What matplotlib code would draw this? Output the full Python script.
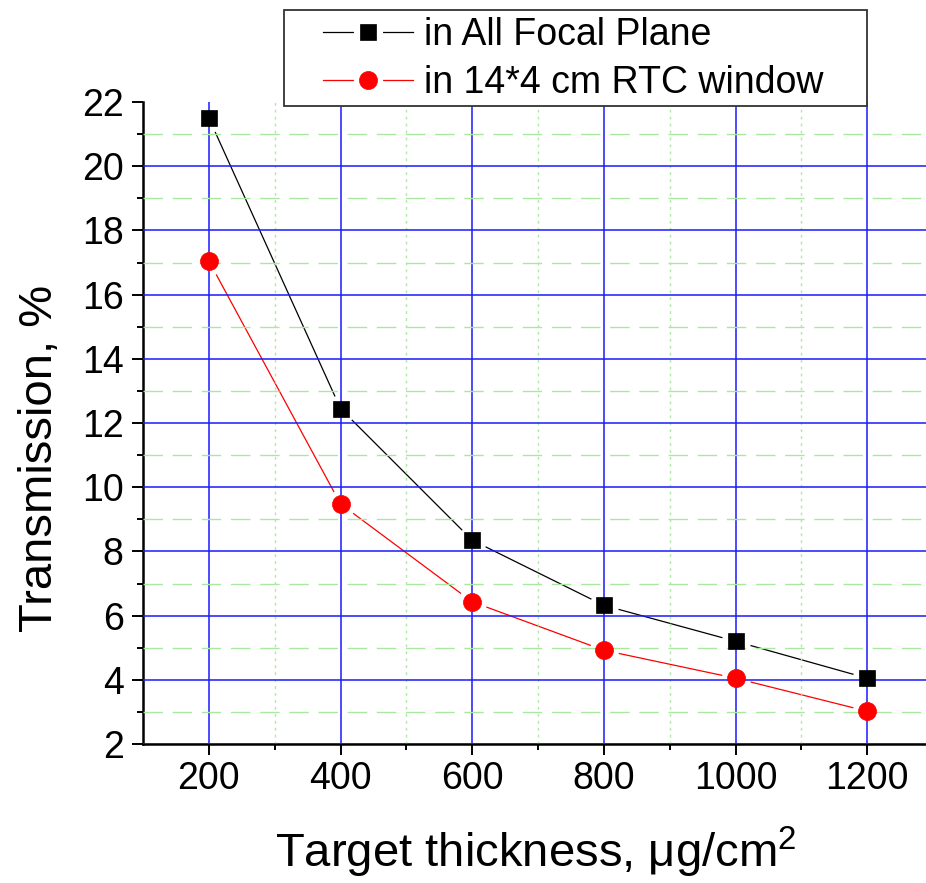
import matplotlib
matplotlib.use("Agg")
import matplotlib.pyplot as plt
from matplotlib.patches import Rectangle
from matplotlib.ticker import MultipleLocator

# transmission vs. target thickness
thickness = [200, 400, 600, 800, 1000, 1200]
all_focal = [21.5, 12.45, 8.35, 6.32, 5.2, 4.05]
rtc_window = [17.05, 9.48, 6.43, 4.92, 4.05, 3.02]
labels = ["in All Focal Plane", "in 14*4 cm RTC window"]
yticks = [2, 4, 6, 8, 10, 12, 14, 16, 18, 20, 22]
xminor = [300, 500, 700, 900, 1100]

plt.rcParams["font.family"] = "Liberation Sans"
plt.rcParams["mathtext.fontset"] = "custom"
plt.rcParams["mathtext.rm"] = "Liberation Sans"
plt.rcParams["mathtext.it"] = "Liberation Sans"

fig = plt.figure(figsize=(9.26, 8.83), dpi=100)
ax = fig.add_axes([143 / 926, 139 / 883, 790 / 926, 642 / 883])

series = [(all_focal, "black", "s", 12.0), (rtc_window, "red", "o", 13.0)]
handles = []
for vals, col, mk, ms in series:
    ln, = ax.plot(thickness, vals, color=col, lw=0.9, zorder=1.5)
    # white disc under each marker leaves a small gap in the line
    halo, = ax.plot(thickness, vals, ls="none", marker="o", ms=21,
                    mfc="white", mec="none", zorder=2)
    dots, = ax.plot(thickness, vals, ls="none", marker=mk, ms=ms,
                    mfc=col, mec=col, mew=0.5, zorder=3)
    handles.append((ln, halo, dots))

ax.set_xlim(100, 1300)
ax.set_ylim(2, 22)
ax.xaxis.set_major_locator(MultipleLocator(200))
ax.set_xticks(xminor, minor=True)
ax.set_yticks(yticks)
ax.yaxis.set_minor_locator(MultipleLocator(1))

ax.set_axisbelow(False)
ax.grid(which="major", color="#1a1aff", lw=1.1)
ax.grid(which="minor", axis="y", color="#a8e8a0", lw=1.0, ls=(0, (14, 7)))
ax.grid(which="minor", axis="x", color="#b0e8a8", lw=1.0, ls=(0, (2, 3)))
ax.yaxis.get_major_ticks()[-1].gridline.set_visible(False)

for s in ["top", "right"]:
    ax.spines[s].set_visible(False)
for s in ["left", "bottom"]:
    ax.spines[s].set_linewidth(1.8)

ax.tick_params(which="major", direction="out", length=8, width=1.4, labelsize=27)
ax.tick_params(which="minor", direction="out", length=4, width=1.4)
ax.tick_params(axis="x", which="major", pad=4)
ax.tick_params(axis="y", which="major", pad=6)

ax.set_xlabel("Target thickness, μg/cm$^{\\mathrm{2}}$", fontsize=34)
ax.xaxis.set_label_coords(0.497, -0.126)
ax.set_ylabel("Transmission, %", fontsize=34)
ax.yaxis.set_label_coords(-0.1025, 0.445)

# legend box sits above the plot area
fig.patches.append(Rectangle((284 / 926, 777 / 883), 583 / 926, 96 / 883,
                             transform=fig.transFigure, fc="white",
                             ec="#333333", lw=1.3, zorder=5))
leg = fig.legend(handles, labels, loc="center left",
                 bbox_to_anchor=(323 / 926, 1 - 59 / 883),
                 bbox_transform=fig.transFigure, frameon=False, fontsize=27,
                 handlelength=2.4, handletextpad=0.3, labelspacing=0.33,
                 borderpad=0, borderaxespad=0)
leg.set_zorder(6)

fig.savefig("out.png", dpi=100)
